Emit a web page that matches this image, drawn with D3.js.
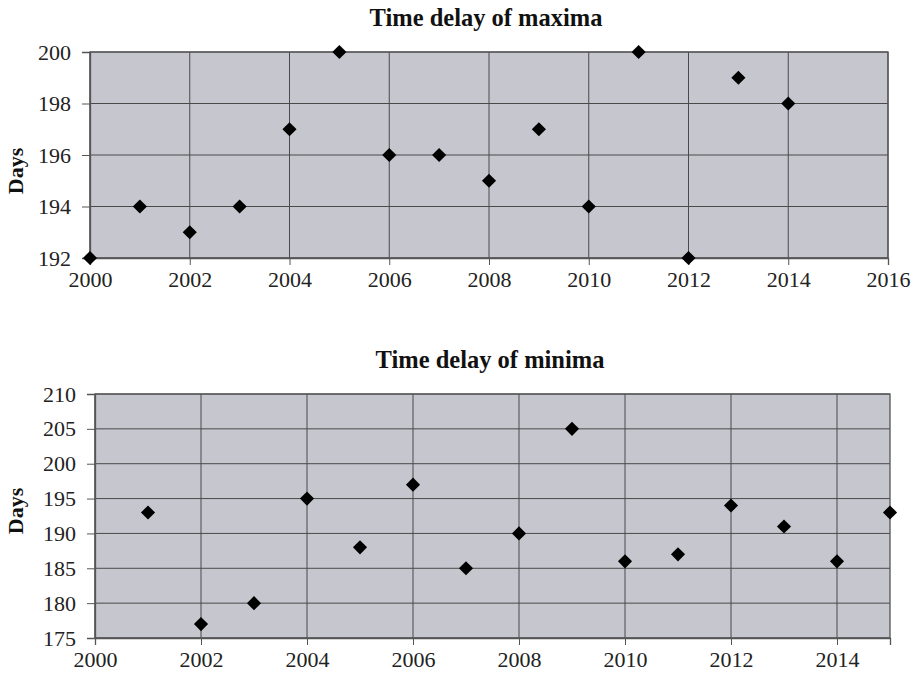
<!DOCTYPE html>
<html>
<head>
<meta charset="utf-8">
<script src="https://cdn.jsdelivr.net/npm/d3@7"></script>
<style>
  html, body { margin: 0; padding: 0; background: #ffffff; }
  svg { display: block; }
</style>
</head>
<body>
<svg id="chart" width="918" height="676"></svg>
<script>
// ---- data ----
const maxYears = [2000, 2001, 2002, 2003, 2004, 2005, 2006, 2007, 2008, 2009, 2010, 2011, 2012, 2013, 2014];
const maxDays  = [192, 194, 193, 194, 197, 200, 196, 196, 195, 197, 194, 200, 192, 199, 198];
const minYears = [2001, 2002, 2003, 2004, 2005, 2006, 2007, 2008, 2009, 2010, 2011, 2012, 2013, 2014, 2015];
const minDays  = [193, 177, 180, 195, 188, 197, 185, 190, 205, 186, 187, 194, 191, 186, 193];
const maxXTicks = [2000, 2002, 2004, 2006, 2008, 2010, 2012, 2014, 2016];
const maxYTicks = [192, 194, 196, 198, 200];
const minXTicks = [2000, 2002, 2004, 2006, 2008, 2010, 2012, 2014];
const minYTicks = [175, 180, 185, 190, 195, 200, 205, 210];
const titles = ["Time delay of maxima", "Time delay of minima"];
const yLabel = "Days";

const svg = d3.select("#chart");
const FONT = "Liberation Serif, Times New Roman, serif";

function drawPanel(cfg) {
  const x = d3.scaleLinear().domain(cfg.xDomain).range([cfg.left, cfg.right]);
  const y = d3.scaleLinear().domain(cfg.yDomain).range([cfg.bottom, cfg.top]);
  const g = svg.append("g");

  // plot background
  g.append("rect")
    .attr("x", cfg.left).attr("y", cfg.top)
    .attr("width", cfg.right - cfg.left).attr("height", cfg.bottom - cfg.top)
    .attr("fill", "#c6c6ce");

  // gridlines
  g.append("g").selectAll("line").data(cfg.xTicks).join("line")
    .attr("x1", d => x(d)).attr("x2", d => x(d))
    .attr("y1", cfg.top).attr("y2", cfg.bottom)
    .attr("stroke", "#4a4a4a").attr("stroke-width", 1);
  g.append("g").selectAll("line").data(cfg.yTicks).join("line")
    .attr("x1", cfg.left).attr("x2", cfg.right)
    .attr("y1", d => y(d)).attr("y2", d => y(d))
    .attr("stroke", "#4a4a4a").attr("stroke-width", 1);

  // border
  g.append("rect")
    .attr("x", cfg.left).attr("y", cfg.top)
    .attr("width", cfg.right - cfg.left).attr("height", cfg.bottom - cfg.top)
    .attr("fill", "none").attr("stroke", "#555").attr("stroke-width", 1.3);

  // axes
  const xAxis = d3.axisBottom(x).tickValues(cfg.xTicks).tickFormat(d3.format("d"))
    .tickSize(7).tickPadding(6);
  const gx = g.append("g").attr("transform", `translate(0,${cfg.bottom})`).call(xAxis);
  gx.attr("font-family", FONT).attr("font-size", 22);
  gx.select(".domain").attr("stroke", "#555").attr("stroke-width", 1.3);
  gx.selectAll(".tick line").attr("stroke", "#555");
  gx.selectAll("text").style("font-family", FONT).style("font-size", "22px").attr("fill", "#222");

  const yAxis = d3.axisLeft(y).tickValues(cfg.yTicks).tickFormat(d3.format("d"))
    .tickSize(8).tickPadding(11);
  const gy = g.append("g").attr("transform", `translate(${cfg.left},0)`).call(yAxis);
  gy.attr("font-family", FONT).attr("font-size", 22);
  gy.select(".domain").attr("stroke", "#555").attr("stroke-width", 1.3);
  gy.selectAll(".tick line").attr("stroke", "#555");
  gy.selectAll("text").style("font-family", FONT).style("font-size", "22px").attr("fill", "#222");

  // title
  g.append("text")
    .attr("x", cfg.titleX).attr("y", cfg.titleY)
    .attr("text-anchor", "middle")
    .style("font-family", FONT).attr("font-weight", "bold").style("font-size", "24.5px")
    .attr("fill", "#111")
    .text(cfg.title);

  // y label
  g.append("text")
    .attr("transform", `translate(${cfg.labelX},${cfg.labelY}) rotate(-90)`)
    .attr("text-anchor", "middle")
    .style("font-family", FONT).attr("font-weight", "bold").style("font-size", "22px")
    .attr("fill", "#111")
    .text(yLabel);

  // markers
  const diamond = d3.symbol().type(d3.symbolSquare).size(100);
  g.append("g").selectAll("path").data(cfg.xs.map((v, i) => [v, cfg.ys[i]])).join("path")
    .attr("d", diamond)
    .attr("transform", d => `translate(${x(d[0])},${y(d[1])}) rotate(45)`)
    .attr("fill", "#000");
}

drawPanel({
  xs: maxYears, ys: maxDays, xTicks: maxXTicks, yTicks: maxYTicks,
  xDomain: [2000, 2016], yDomain: [192, 200],
  left: 90, right: 888, top: 52, bottom: 258,
  title: titles[0], titleX: 486, titleY: 26, labelX: 23, labelY: 171
});

drawPanel({
  xs: minYears, ys: minDays, xTicks: minXTicks, yTicks: minYTicks,
  xDomain: [2000, 2015], yDomain: [175, 210],
  left: 95, right: 890, top: 394, bottom: 638,
  title: titles[1], titleX: 490, titleY: 368, labelX: 23, labelY: 511
});
</script>
</body>
</html>
